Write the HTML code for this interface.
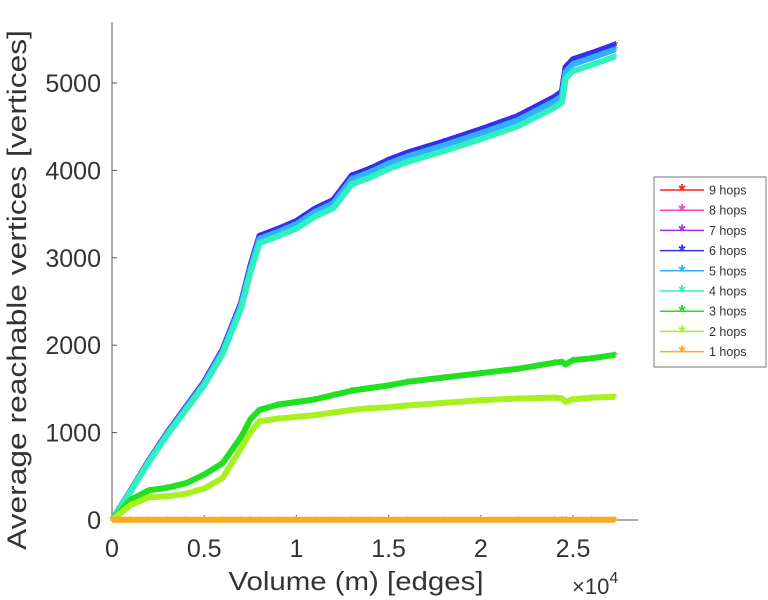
<!DOCTYPE html>
<html><head><meta charset="utf-8"><style>
body{margin:0;background:#fff;}
svg{display:block;font-family:"Liberation Sans",sans-serif;}
</style></head><body>
<svg id="chart" width="768" height="600" viewBox="0 0 768 600"></svg>
<script>
const xs = [0,0.1,0.2,0.3,0.4,0.5,0.6,0.7,0.75,0.8,0.9,1.0,1.1,1.2,1.3,1.4,1.5,1.6,1.8,2.0,2.2,2.4,2.44,2.46,2.5,2.6,2.73];
const top6 = [0,330,680,1000,1290,1580,1950,2480,2900,3250,3330,3420,3560,3660,3940,4020,4120,4200,4330,4470,4620,4840,4900,5180,5270,5340,5440];
const hops5 = top6.map(v=>v*0.99);
const hops4 = top6.map(v=>v*0.975);
const hops3 = [0,230,340,370,420,520,650,950,1150,1260,1320,1350,1380,1430,1480,1510,1540,1580,1630,1680,1730,1800,1810,1780,1830,1850,1890];
const hops2 = [0,170,260,270,300,360,480,820,1000,1130,1160,1180,1200,1230,1260,1280,1290,1310,1340,1370,1390,1400,1390,1350,1380,1400,1410];
const hops1 = xs.map(()=>3);
const seriesNames = ["9 hops","8 hops","7 hops","6 hops","5 hops","4 hops","3 hops","2 hops","1 hops"];
const seriesColors = ["#ff2020","#ff40c0","#a030f0","#3030f0","#30b0ff","#30f0c0","#20e020","#a8f020","#ffa820"];
const seriesData = [top6,top6,top6,top6,hops5,hops4,hops3,hops2,hops1];
const yTicks = [0,1000,2000,3000,4000,5000];
const xTicks = [0,0.5,1,1.5,2,2.5];

const NS="http://www.w3.org/2000/svg";
const svg=document.getElementById('chart');
const X=v=>112+v*184.4;
const Y=v=>520-v*0.0874;
function mk(t,a,p){const e=document.createElementNS(NS,t);for(const k in a)e.setAttribute(k,a[k]);(p||svg).appendChild(e);return e;}

const axes=mk('g',{});


const ya=mk('line',{x1:112,y1:22,x2:112,y2:520,stroke:'#555','stroke-width':1},axes);


const xa=mk('line',{x1:112,y1:520,x2:638,y2:520,stroke:'#555','stroke-width':1},axes);


yTicks.forEach(t=>{
  mk('line',{x1:112,y1:Y(t),x2:117,y2:Y(t),stroke:'#555'},axes);
  const l=mk('text',{x:101,y:Y(t)+9,'text-anchor':'end','font-size':25,fill:'#333'},axes);
  l.textContent=t;
  
  
});
xTicks.forEach(t=>{
  mk('line',{x1:X(t),y1:520,x2:X(t),y2:515,stroke:'#555'},axes);
  const l=mk('text',{x:X(t),y:557,'text-anchor':'middle','font-size':25,fill:'#333'},axes);
  l.textContent=t;
  
  
});
const yt=mk('text',{x:0,y:0,transform:'translate(26,290) rotate(-90)','text-anchor':'middle','font-size':27,fill:'#333',textLength:520,lengthAdjust:'spacingAndGlyphs'});
yt.textContent='Average reachable vertices [vertices]';


const xt=mk('text',{x:356,y:590,'text-anchor':'middle','font-size':26,fill:'#333',textLength:255,lengthAdjust:'spacingAndGlyphs'});
xt.textContent='Volume (m) [edges]';


const ex=mk('text',{x:572,y:594,'font-size':22,fill:'#333'});
ex.innerHTML='×10<tspan dy="-11" font-size="16">4</tspan>';



for(let i=0;i<seriesData.length;i++){
  const d=seriesData[i];
  const g=mk('g',{});
  
  
  const pts=xs.map((x,j)=>X(x)+','+Y(d[j])).join(' ');
  mk('polyline',{points:pts,fill:'none',stroke:seriesColors[i],'stroke-width':6,'stroke-linejoin':'round'},g);
  xs.forEach((x,j)=>{
    const m=mk('text',{x:X(x),y:Y(d[j])+6,'text-anchor':'middle','font-size':14,fill:seriesColors[i]},g);
    m.textContent='*';
    
    
  });
}

const lg=mk('g',{});


mk('rect',{x:654,y:177,width:112,height:190,fill:'#fff',stroke:'#777'},lg);
seriesNames.forEach((n,i)=>{
  const y=190+i*20.2;
  const e=mk('g',{},lg);
  
  
  mk('line',{x1:660,y1:y,x2:704,y2:y,stroke:seriesColors[i],'stroke-width':1.5},e);
  const s=mk('text',{x:682,y:y+7,'text-anchor':'middle','font-size':18,'font-weight':'bold',fill:seriesColors[i]},e);
  s.textContent='*';
  const t=mk('text',{x:709,y:y+4.5,'font-size':12.5,fill:'#333'},e);
  t.textContent=n;
});
</script>
</body></html>
